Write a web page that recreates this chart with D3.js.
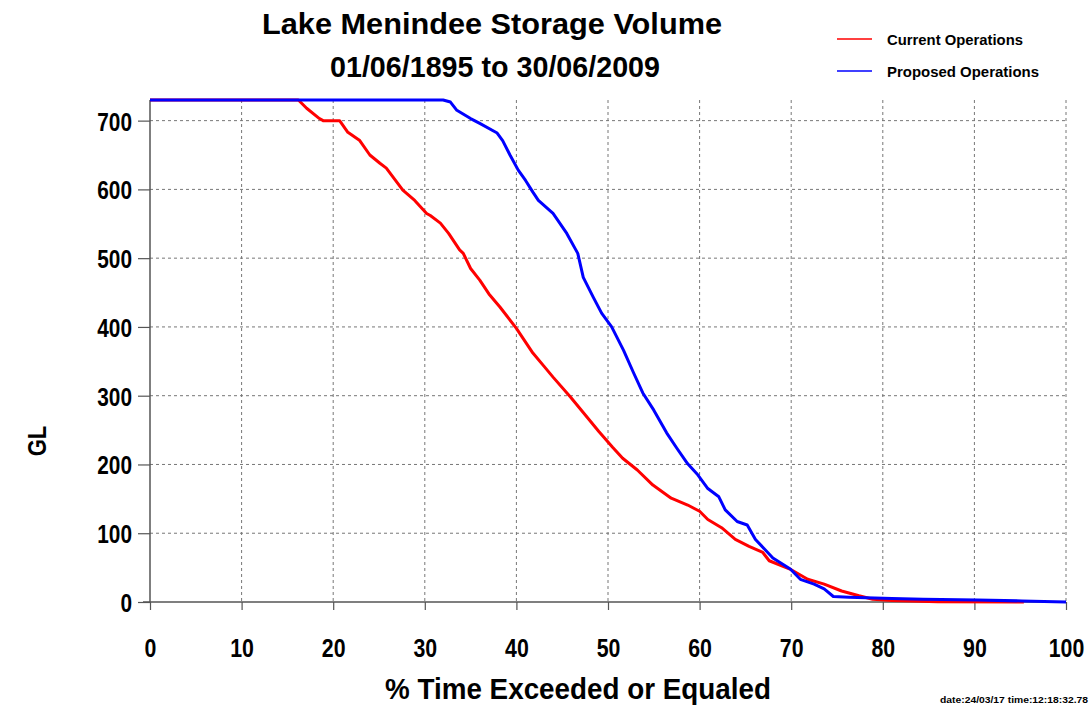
<!DOCTYPE html>
<html>
<head>
<meta charset="utf-8">
<script src="https://cdn.jsdelivr.net/npm/d3@7"></script>
<style>
  body { margin: 0; background: #fff; }
  text { font-family: "Liberation Sans", Arial, sans-serif; fill: #000; font-weight: bold; }
</style>
</head>
<body>
<div id="chart"></div>
<script>
// Exceedance curves
const currentPct = [0, 16.2, 17.1, 18.5, 18.9, 20.7, 21.6, 22.9, 24, 25.1, 25.8, 27.6, 28.9, 30.2, 30.6, 31.7, 32.6, 33.8, 34.2, 35, 36, 37, 38.2, 40, 41.8, 43, 44, 45.9, 47.7, 49, 50.5, 51.6, 53.2, 54.9, 56.9, 58.7, 60, 60.9, 62.4, 63.9, 65.4, 66.9, 67.6, 70, 71.8, 73.6, 75.5, 77.4, 78.9, 81, 86, 95.4];
const currentGL  = [730, 730, 718, 703, 700, 700, 683, 671, 650, 638, 631, 599, 584, 565, 562, 551, 536, 512, 507, 485, 468, 448, 429, 398, 362, 343, 327, 298, 269, 248, 225, 209, 192, 170, 151, 141, 132, 120, 108, 91, 81, 72, 60, 47, 33, 26, 16, 9, 4, 2, 0.5, 0];

const proposedPct = [0, 32, 32.8, 33.5, 35, 36, 37.9, 38.5, 39.3, 40.2, 41, 41.8, 42.4, 44, 45.5, 46.7, 47.3, 48.4, 49.3, 50.4, 51.7, 52.8, 53.8, 55, 56.4, 57.5, 58.7, 59.8, 60.9, 62.1, 62.8, 64.1, 65.2, 66.1, 68, 69.9, 71, 72.5, 73.6, 74.6, 76.3, 81, 84.4, 90.3, 95.2, 100];
const proposedGL  = [730, 730, 727, 715, 703, 696, 682, 671, 650, 628, 613, 596, 584, 565, 536, 507, 472, 443, 420, 400, 366, 333, 304, 279, 246, 224, 201, 185, 165, 153, 134, 117, 112, 91, 64, 48, 33, 26, 19, 8, 7, 5, 4, 3, 1.5, 0];

const xTicks = [0, 10, 20, 30, 40, 50, 60, 70, 80, 90, 100];
const yTicks = [0, 100, 200, 300, 400, 500, 600, 700];
const seriesNames = ["Current Operations", "Proposed Operations"];
const seriesColors = ["#ff0000", "#0000ff"];

const totalWidth = 1090, totalHeight = 708;
const margin = {top: 100, right: 24, bottom: 106, left: 150},
    width = totalWidth - margin.left - margin.right,
    height = totalHeight - margin.top - margin.bottom;

const svg = d3.select("#chart")
  .append("svg")
    .attr("width", totalWidth)
    .attr("height", totalHeight);

const g = svg.append("g")
    .attr("transform", "translate(" + margin.left + "," + margin.top + ")");

const x = d3.scaleLinear().domain([0, 100]).range([0, width]);
const y = d3.scaleLinear().domain([0, 730]).range([height, 0]);

// grid
g.selectAll(".vgrid")
  .data(xTicks.filter(d => d > 0))
  .enter().append("line")
    .attr("x1", d => x(d)).attr("x2", d => x(d))
    .attr("y1", 0).attr("y2", height)
    .attr("stroke", "#777").attr("stroke-dasharray", "3,3");

g.selectAll(".hgrid")
  .data(yTicks.filter(d => d > 0))
  .enter().append("line")
    .attr("x1", 0).attr("x2", width)
    .attr("y1", d => y(d)).attr("y2", d => y(d))
    .attr("stroke", "#777").attr("stroke-dasharray", "3,3");

// axes
const xAxis = g.append("g")
    .attr("transform", "translate(0," + height + ")")
    .call(d3.axisBottom(x).tickValues(xTicks).tickSize(8).tickFormat(d3.format("d")));
const yAxis = g.append("g")
    .call(d3.axisLeft(y).tickValues(yTicks).tickSize(12).tickFormat(d3.format("d")));

[xAxis, yAxis].forEach(a => {
  a.select(".domain").attr("stroke", "#555").attr("stroke-width", 1.5);
  a.selectAll(".tick line").attr("stroke", "#555").attr("stroke-width", 1.2);
  a.selectAll("text")
    .style("font-family", "'Liberation Sans', Arial, sans-serif")
    .style("font-size", "26px").style("font-weight", "bold").attr("fill", "#000");
});
xAxis.selectAll(".tick text")
    .attr("y", 0).attr("dy", 0)
    .attr("transform", "translate(0,55) scale(0.82,1)");
yAxis.selectAll(".tick text")
    .attr("x", 0).attr("dy", 0)
    .attr("transform", "translate(-18,9.5) scale(0.8,1)");
yAxis.select(".domain").attr("d", "M0," + height + "V" + y(730));
xAxis.select(".domain").attr("d", "M-7,0H" + width);

// lines
const line = d3.line().x(d => x(d[0])).y(d => y(d[1]));
const currentData = currentPct.map((p, i) => [p, currentGL[i]]);
const proposedData = proposedPct.map((p, i) => [p, proposedGL[i]]);

g.append("path").datum(currentData)
    .attr("d", line).attr("fill", "none")
    .attr("stroke", seriesColors[0]).attr("stroke-width", 3).attr("stroke-linejoin", "round");
g.append("path").datum(proposedData)
    .attr("d", line).attr("fill", "none")
    .attr("stroke", seriesColors[1]).attr("stroke-width", 3).attr("stroke-linejoin", "round");

// titles
svg.append("text")
    .attr("x", 492).attr("y", 34)
    .attr("text-anchor", "middle")
    .attr("textLength", 460).attr("lengthAdjust", "spacingAndGlyphs")
    .style("font-size", "29px")
    .text("Lake Menindee Storage Volume");
svg.append("text")
    .attr("x", 495).attr("y", 77)
    .attr("text-anchor", "middle")
    .attr("textLength", 330).attr("lengthAdjust", "spacingAndGlyphs")
    .style("font-size", "29px")
    .text("01/06/1895 to 30/06/2009");

svg.append("text")
    .attr("x", 578).attr("y", 699)
    .attr("text-anchor", "middle")
    .attr("textLength", 386).attr("lengthAdjust", "spacingAndGlyphs")
    .style("font-size", "29px")
    .text("% Time Exceeded or Equaled");

svg.append("text")
    .attr("transform", "translate(46,441) rotate(-90) scale(0.85,1)")
    .attr("text-anchor", "middle")
    .style("font-size", "26px")
    .text("GL");

// legend
const legend = svg.append("g");
seriesNames.forEach((name, i) => {
  const ly = 39 + i * 32;
  legend.append("line")
      .attr("x1", 837).attr("x2", 872).attr("y1", ly).attr("y2", ly)
      .attr("stroke", seriesColors[i]).attr("stroke-width", 1.5);
  legend.append("text")
      .attr("x", 887).attr("y", ly + 6)
      .attr("textLength", i === 0 ? 136 : 152).attr("lengthAdjust", "spacingAndGlyphs")
      .style("font-size", "15px")
      .text(name);
});

svg.append("text")
    .attr("x", 940).attr("y", 703)
    .attr("textLength", 148).attr("lengthAdjust", "spacingAndGlyphs")
    .style("font-size", "9px")
    .text("date:24/03/17 time:12:18:32.78");
</script>
</body>
</html>
